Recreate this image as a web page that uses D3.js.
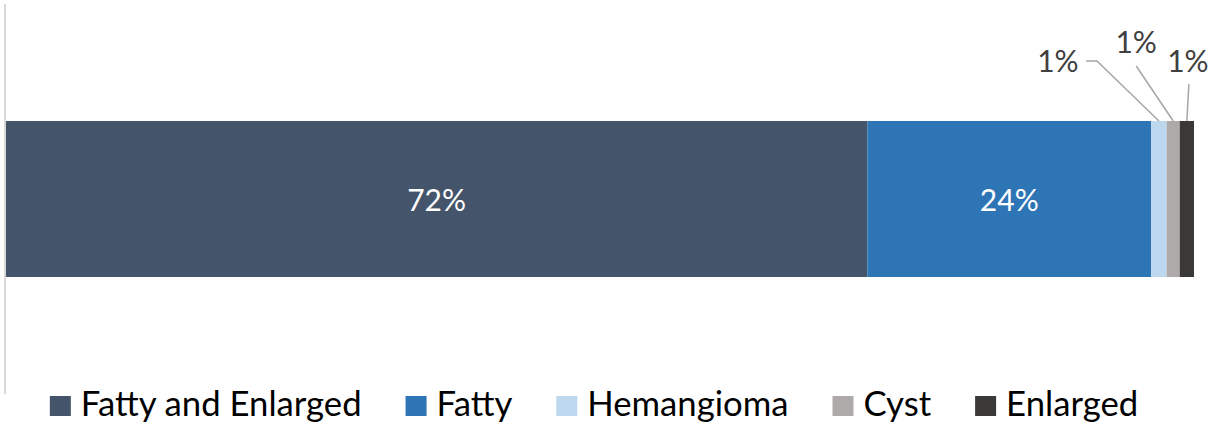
<!DOCTYPE html>
<html><head><meta charset="utf-8">
<script src="https://cdn.jsdelivr.net/npm/d3@7"></script>
<style>
html,body{margin:0;padding:0;background:#fff;}
svg{display:block;font-family:Lato,"Open Sans",sans-serif;}
</style></head>
<body>
<svg id="chart" width="1210" height="424"></svg>
<script>
const categories = ["Fatty and Enlarged","Fatty","Hemangioma","Cyst","Enlarged"];
const values = [72.5, 23.9, 1.3, 1.1, 1.2];
const labels = ["72%","24%","1%","1%","1%"];
const colors = ["#44546a","#2e75b6","#bdd7ee","#aeaaaa","#3b3838"];

const svg = d3.select("#chart");
const total = d3.sum(values);
const x = d3.scaleLinear().domain([0,total]).range([6,1194]);
const y = d3.scaleBand().domain(["row"]).range([4,394]).paddingInner(0).paddingOuter(0.75);

const stacked = [];
let acc = 0;
values.forEach((v,i)=>{ stacked.push({cat:categories[i], v, x0:acc, x1:acc+v, label:labels[i], color:colors[i], i}); acc+=v; });

// axis line
const yAxis = d3.axisLeft(y).tickSize(0).tickFormat("");
const ag = svg.append("g").attr("transform","translate(5,0)").call(yAxis);
ag.select(".domain").attr("stroke","#d9d9d9").attr("stroke-width",2).attr("d","M0,4V394");

// bars
svg.append("g").selectAll("rect").data(stacked).join("rect")
  .attr("x",d=>x(d.x0)).attr("width",d=>x(d.x1)-x(d.x0))
  .attr("y",y("row")).attr("height",y.bandwidth())
  .attr("fill",d=>d.color);

// inside labels
const cy = y("row")+y.bandwidth()/2;
svg.append("g").selectAll("text").data(stacked.filter(d=>d.v>10)).join("text")
  .attr("x",d=>(x(d.x0)+x(d.x1))/2).attr("y",cy+12)
  .attr("text-anchor","middle").attr("fill","#ffffff").attr("font-size",30)
  .text(d=>d.label);

// outside labels with leader lines
const small = stacked.filter(d=>d.v<=10);
const offsets = [{dx:-101,ty:72,pts:[[-73,-60],[-62,-60]]},{dx:-37,ty:53,pts:[[-37,-55]]},{dx:1,ty:72,pts:[[2,-37]]}];
const barTop = y("row");
small.forEach((d,k)=>{
  const mx=(x(d.x0)+x(d.x1))/2;
  const o=offsets[k];
  const pts=o.pts.map(p=>[mx+p[0], barTop+p[1]]).concat([[mx,barTop]]);
  svg.append("path").attr("d",d3.line()(pts)).attr("fill","none").attr("stroke","#a6a6a6").attr("stroke-width",1.5);
  svg.append("text").attr("x",mx+o.dx).attr("y",o.ty).attr("text-anchor","middle")
    .attr("fill","#404040").attr("font-size",30).text(d.label);
});

// legend
const lg = svg.append("g");
let lx = 0;
categories.forEach((c,i)=>{
  const g = lg.append("g");
  g.append("rect").attr("x",0).attr("y",396).attr("width",21).attr("height",20).attr("fill",colors[i]);
  const t = g.append("text").attr("x",31).attr("y",416).attr("fill","#000").attr("font-size",34.7).text(c);
  const w = t.node().getComputedTextLength();
  g.attr("transform",`translate(${lx},0)`);
  lx += 31 + w + 44;
});
const lw = lx - 44;
lg.attr("transform",`translate(${594 - lw/2},0)`);
</script>
</body></html>
